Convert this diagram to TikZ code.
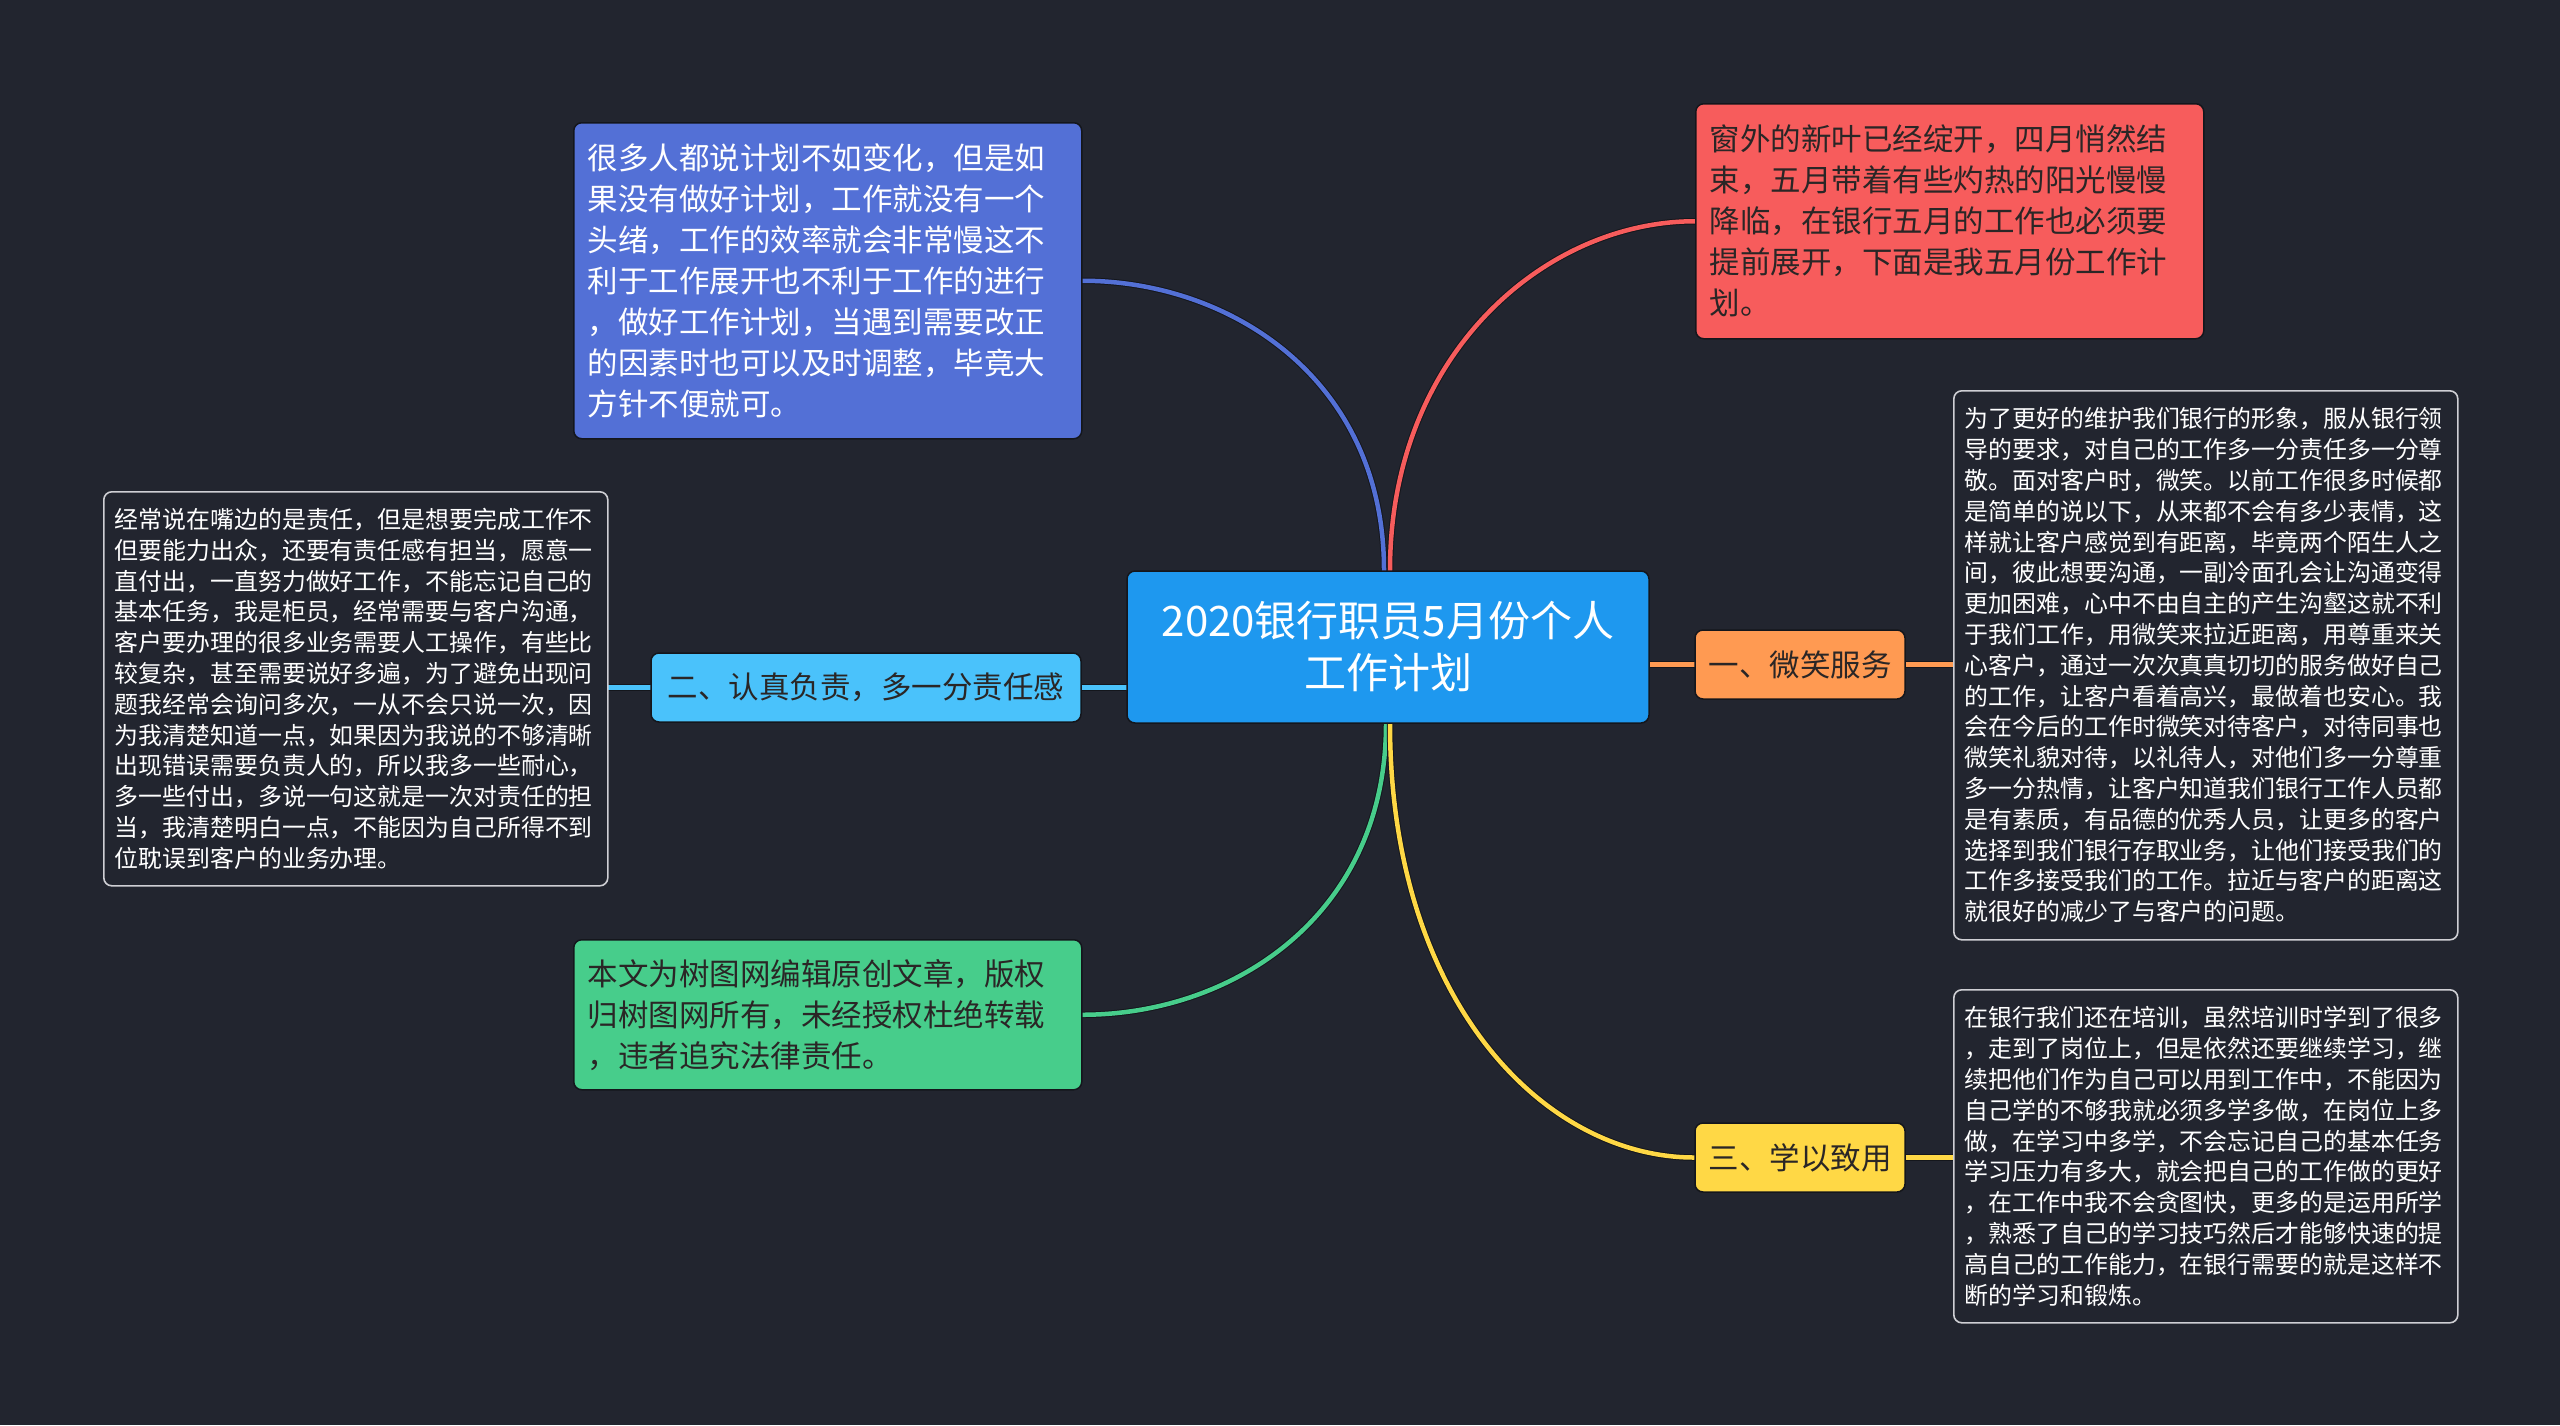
\documentclass[tikz,border=0pt]{standalone}
\usepackage{fontspec}
\setmainfont{Noto Sans CJK SC}
\definecolor{bgc}{HTML}{22252F}
\definecolor{cblue}{HTML}{5370D6}
\definecolor{cred}{HTML}{F75C5C}
\definecolor{cgreen}{HTML}{47CD8B}
\definecolor{corange}{HTML}{FF9A52}
\definecolor{clight}{HTML}{4AC2FB}
\definecolor{cyellow}{HTML}{FFD845}
\definecolor{ccenter}{HTML}{1E98EF}
\definecolor{edgec}{HTML}{14161C}
\definecolor{darktext}{HTML}{2A2626}
\definecolor{boxline}{HTML}{CFCFD4}
\pgfdeclarelayer{bglayer}
\pgfdeclarelayer{lines}
\pgfsetlayers{bglayer,lines,main}
\tikzset{
  cbox/.style={draw=edgec, line width=1.5pt, rounded corners=8pt, anchor=north west,
    inner xsep=14pt, inner ysep=0pt, align=left, text width=480pt, minimum width=508pt,
    font=\fontsize{30.5}{41}\selectfont},
  tbox/.style={draw=boxline, line width=1.6pt, rounded corners=8pt, anchor=north west,
    inner xsep=11pt, inner ysep=0pt, align=left, text width=482pt, minimum width=504pt,
    fill=bgc, text=white, font=\fontsize{23.9}{30.8}\selectfont},
  sbox/.style={draw=edgec, line width=1.5pt, rounded corners=8pt, anchor=center,
    inner sep=0pt, align=center, minimum height=69pt, text=darktext,
    font=\fontsize{30.5}{36}\selectfont},
  conn/.style={line width=4.5pt, line cap=round},
  connedge/.style={line width=6.5pt, draw=edgec},
}
\begin{document}
\begin{tikzpicture}[x=1pt,y=-1pt]
\begin{pgfonlayer}{bglayer}
\fill[bgc] (0,0) rectangle (2560,1425);
\end{pgfonlayer}
\useasboundingbox (0,0) rectangle (2560,1425);

% center
\node[draw=edgec, line width=1.5pt, rounded corners=8pt, fill=ccenter, text=white,
  minimum width=522pt, minimum height=152pt, inner sep=0pt, align=center,
  font=\fontsize{42}{52}\selectfont] (c) at (1388,647) {2020银行职员5月份个人\\工作计划};

% top-left blue
\node[cbox, fill=cblue, text=white, minimum height=316pt] (blue) at (573,122)
{很多人都说计划不如变化，但是如\\果没有做好计划，工作就没有一个\\头绪，工作的效率就会非常慢这不\\利于工作展开也不利于工作的进行\\，做好工作计划，当遇到需要改正\\的因素时也可以及时调整，毕竟大\\方针不便就可。};

% top-right red
\node[cbox, fill=cred, text=darktext, minimum height=235pt] (red) at (1695,103)
{窗外的新叶已经绽开，四月悄然结\\束，五月带着有些灼热的阳光慢慢\\降临，在银行五月的工作也必须要\\提前展开，下面是我五月份工作计\\划。};

% green
\node[cbox, fill=cgreen, text=darktext, minimum height=150pt] (green) at (573,939)
{本文为树图网编辑原创文章，版权\\归树图网所有，未经授权杜绝转载\\，违者追究法律责任。};

% small topic nodes
\node[sbox, fill=clight, minimum width=430pt] (two) at (866,687.5) {二、认真负责，多一分责任感};
\node[sbox, fill=corange, minimum width=210pt] (one) at (1800,664.5) {一、微笑服务};
\node[sbox, fill=cyellow, minimum width=210pt] (three) at (1800,1157.5) {三、学以致用};

% text boxes
\node[tbox, minimum height=549pt] (r1) at (1953,390)
{为了更好的维护我们银行的形象，服从银行领\\导的要求，对自己的工作多一分责任多一分尊\\敬。面对客户时，微笑。以前工作很多时候都\\是简单的说以下，从来都不会有多少表情，这\\样就让客户感觉到有距离，毕竟两个陌生人之\\间，彼此想要沟通，一副冷面孔会让沟通变得\\更加困难，心中不由自主的产生沟壑这就不利\\于我们工作，用微笑来拉近距离，用尊重来关\\心客户，通过一次次真真切切的服务做好自己\\的工作，让客户看着高兴，最做着也安心。我\\会在今后的工作时微笑对待客户，对待同事也\\微笑礼貌对待，以礼待人，对他们多一分尊重\\多一分热情，让客户知道我们银行工作人员都\\是有素质，有品德的优秀人员，让更多的客户\\选择到我们银行存取业务，让他们接受我们的\\工作多接受我们的工作。拉近与客户的距离这\\就很好的减少了与客户的问题。};

\node[tbox, minimum height=333pt] (r2) at (1953,989)
{在银行我们还在培训，虽然培训时学到了很多\\，走到了岗位上，但是依然还要继续学习，继\\续把他们作为自己可以用到工作中，不能因为\\自己学的不够我就必须多学多做，在岗位上多\\做，在学习中多学，不会忘记自己的基本任务\\学习压力有多大，就会把自己的工作做的更好\\，在工作中我不会贪图快，更多的是运用所学\\，熟悉了自己的学习技巧然后才能够快速的提\\高自己的工作能力，在银行需要的就是这样不\\断的学习和锻炼。};

\node[tbox, minimum width=503pt, minimum height=394pt] (lt) at (103,491)
{经常说在嘴边的是责任，但是想要完成工作不\\但要能力出众，还要有责任感有担当，愿意一\\直付出，一直努力做好工作，不能忘记自己的\\基本任务，我是柜员，经常需要与客户沟通，\\客户要办理的很多业务需要人工操作，有些比\\较复杂，甚至需要说好多遍，为了避免出现问\\题我经常会询问多次，一从不会只说一次，因\\为我清楚知道一点，如果因为我说的不够清晰\\出现错误需要负责人的，所以我多一些耐心，\\多一些付出，多说一句这就是一次对责任的担\\当，我清楚明白一点，不能因为自己所得不到\\位耽误到客户的业务办理。};

% connectors
\begin{pgfonlayer}{lines}
\draw[connedge] ([xshift=-4pt]c.north) .. controls +(0,-191) and +(148,0) .. (blue.east);
\draw[conn, draw=cblue] ([xshift=-4pt]c.north) .. controls +(0,-191) and +(148,0) .. (blue.east);
\draw[connedge] ([xshift=2pt]c.north) .. controls +(0,-216) and +(-150,0) .. (red.west);
\draw[conn, draw=cred] ([xshift=2pt]c.north) .. controls +(0,-216) and +(-150,0) .. (red.west);
\draw[connedge] ([xshift=-2pt]c.south) .. controls +(0,192) and +(150,0) .. (green.east);
\draw[conn, draw=cgreen] ([xshift=-2pt]c.south) .. controls +(0,192) and +(150,0) .. (green.east);
\draw[connedge] ([xshift=2pt]c.south) .. controls +(0,277) and +(-150,0) .. (three.west);
\draw[conn, draw=cyellow] ([xshift=2pt]c.south) .. controls +(0,277) and +(-150,0) .. (three.west);

\draw[connedge] (one.west -| c.east) -- (one.west);
\draw[conn, draw=corange] (one.west -| c.east) -- (one.west);
\draw[connedge] (one.east) -- (one.east -| r1.west);
\draw[conn, draw=corange] (one.east) -- (one.east -| r1.west);

\draw[connedge] (two.east -| c.west) -- (two.east);
\draw[conn, draw=clight] (two.east -| c.west) -- (two.east);
\draw[connedge] (two.west) -- (two.west -| lt.east);
\draw[conn, draw=clight] (two.west) -- (two.west -| lt.east);

\draw[connedge] (three.east) -- (three.east -| r2.west);
\draw[conn, draw=cyellow] (three.east) -- (three.east -| r2.west);
\end{pgfonlayer}
\end{tikzpicture}
\end{document}
